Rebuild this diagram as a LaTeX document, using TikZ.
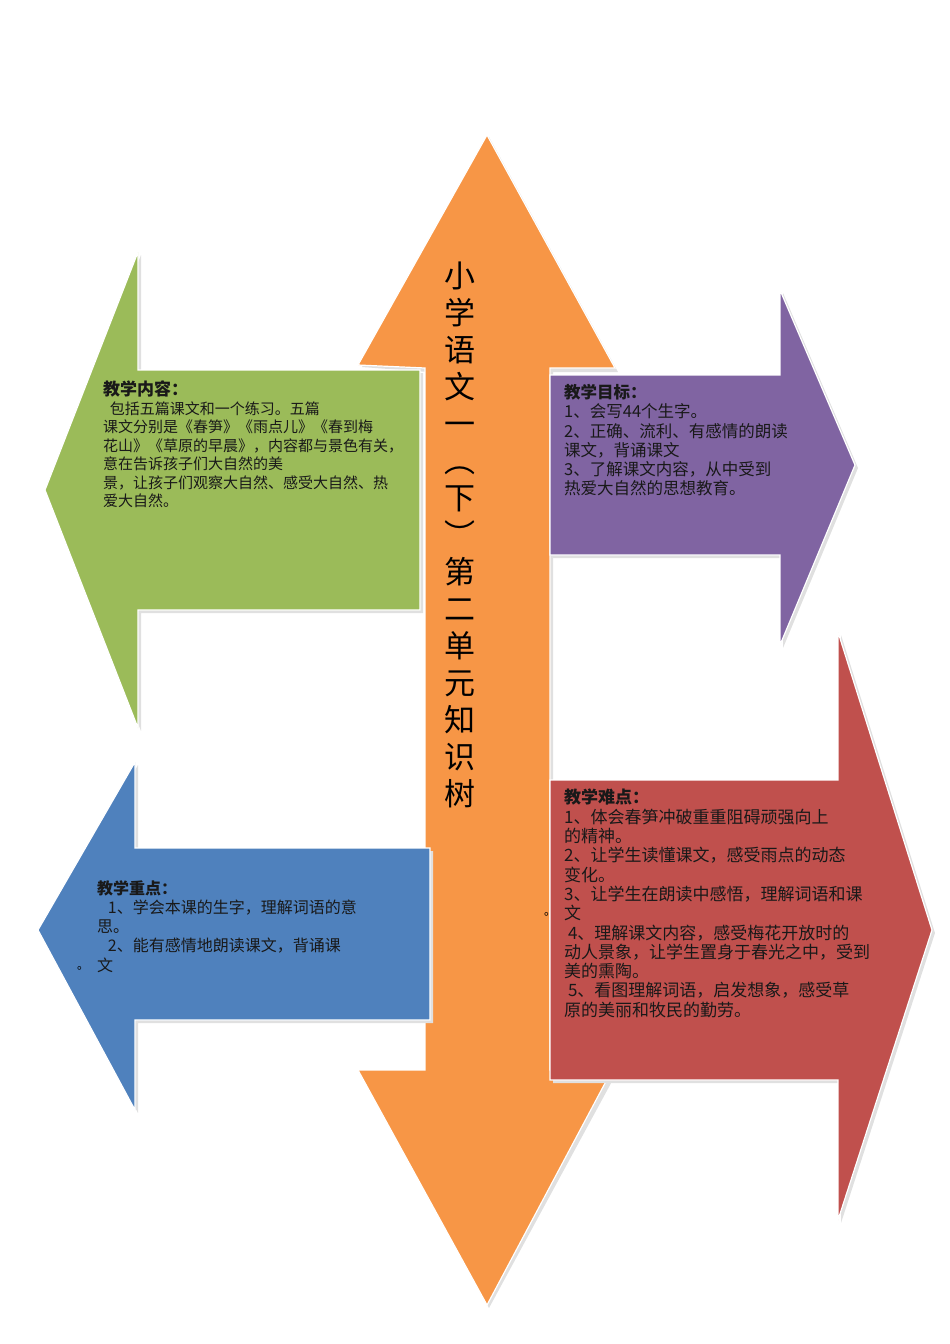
\documentclass[tikz,border=0pt]{standalone}
\usepackage{fontspec}
\newfontfamily\cjk{Noto Sans CJK SC}
\definecolor{corange}{HTML}{F79646}
\definecolor{cgreen}{HTML}{9BBB59}
\definecolor{cpurple}{HTML}{8064A2}
\definecolor{cred}{HTML}{C0504D}
\definecolor{cblue}{HTML}{4F81BD}
\tikzset{arrowshape/.style={draw=white,line width=1.2pt},
 shadowshape/.style={fill=black!12},
 txt/.style={anchor=north west,align=left,inner sep=0pt,font=\cjk\fontsize{15}{18.5}\selectfont,text=black!90}}
\begin{document}
\begin{tikzpicture}[x=1pt,y=-1pt]
\useasboundingbox (0,0) rectangle (950,1344);
% orange double arrow
\fill[shadowshape] (489,137)--(618,372)--(553,372)--(553,1074)--(616,1074)--(489,1308)--(362,1074)--(428,1074)--(428,372)--(362,367)--cycle;
\path[arrowshape,fill=corange] (487,135) coordinate(ot)--(615,368)--(550,368)--(550,1070)--(612,1070)--(487,1305) coordinate(ob)--(358,1070)--(425,1070)--(425,368)--(358,365)--cycle;
% green left arrow
\fill[shadowshape] (141,255)--(141,373)--(423,373)--(423,613)--(141,613)--(141,731)--(48,493)--cycle;
\path[arrowshape,fill=cgreen] (138,252)--(138,370)--(420,370)--(420,610)--(138,610)--(138,728)--(45,490) coordinate(gt)--cycle;
% purple right arrow
\fill[shadowshape] (553,378)--(783,378)--(783,293)--(858,468)--(783,648)--(783,558)--(553,558)--cycle;
\path[arrowshape,fill=cpurple] (550,375)--(780,375)--(780,290)--(855,465) coordinate(pt)--(780,645)--(780,555)--(550,555)--cycle;
% red right arrow
\fill[shadowshape] (553,783)--(841,783)--(841,635)--(935,933)--(841,1223)--(841,1083)--(553,1083)--cycle;
\path[arrowshape,fill=cred] (550,780)--(838,780)--(838,632)--(932,930) coordinate(rt)--(838,1220)--(838,1080)--(550,1080)--cycle;
% blue left arrow
\fill[shadowshape] (138,765)--(138,851)--(433,851)--(433,1023)--(138,1023)--(138,1113)--(41,933)--cycle;
\path[arrowshape,fill=cblue] (135,762)--(135,848)--(430,848)--(430,1020)--(135,1020)--(135,1110)--(38,930) coordinate(bt)--cycle;
% title
\node[font=\cjk\fontsize{31}{37}\selectfont,align=center,anchor=north,inner sep=0pt] (title) at (460,262)
 {小\\学\\语\\文\\一\\︵\\下\\︶\\第\\二\\单\\元\\知\\识\\树};
% green text
\node[txt] (gtext) at (103,381) {{\bfseries\fontsize{17}{18.5}\selectfont 教学内容：}\\
\ \ 包括五篇课文和一个练习。五篇\\
课文分别是《春笋》《雨点儿》《春到梅\\
花山》《草原的早晨》，内容都与景色有关，\\
意在告诉孩子们大自然的美\\
景，让孩子们观察大自然、感受大自然、热\\
爱大自然。};
% purple text
\node[txt,font=\cjk\fontsize{16.5}{19.3}\selectfont] (ptext) at (564,384) {{\bfseries 教学目标：}\\
1、会写44个生字。\\
2、正确、流利、有感情的朗读\\
课文，背诵课文\\
3、了解课文内容，从中受到\\
热爱大自然的思想教育。};
% red text
\node[txt,font=\cjk\fontsize{17}{19.3}\selectfont] (rtext) at (564,789) {{\bfseries 教学难点：}\\
1、体会春笋冲破重重阻碍顽强向上\\
的精神。\\
2、让学生读懂课文，感受雨点的动态\\
变化。\\
3、让学生在朗读中感悟，理解词语和课\\
文\\
\ 4、理解课文内容，感受梅花开放时的\\
动人景象，让学生置身于春光之中，受到\\
美的熏陶。\\
\ 5、看图理解词语，启发想象，感受草\\
原的美丽和牧民的勤劳。};
\node[font=\cjk\fontsize{12}{12}\selectfont,inner sep=0pt] (rdot) at (550,914) {。};
% blue text
\node[txt,font=\cjk\fontsize{16}{19.3}\selectfont] (btext) at (97,880) {{\bfseries 教学重点：}\\
\ \ \ 1、学会本课的生字，理解词语的意\\
思。\\
\ \ \ 2、能有感情地朗读课文，背诵课\\
文};
\node[font=\cjk\fontsize{12}{12}\selectfont,inner sep=0pt] (bdot) at (83,968) {。};
\end{tikzpicture}
\end{document}
